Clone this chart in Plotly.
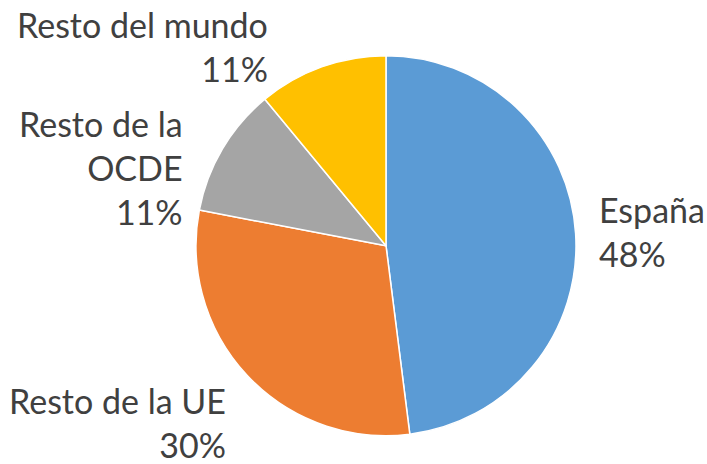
import plotly.graph_objects as go

labels = ["España", "Resto de la UE", "Resto de la OCDE", "Resto del mundo"]
values = [48, 30, 11, 11]
colors = ["#5B9BD5", "#ED7D31", "#A5A5A5", "#FFC000"]

# texto de cada etiqueta (con saltos de línea como en el original)
label_text = ["España", "Resto de la UE", "Resto de la<br>OCDE", "Resto del mundo"]
total = sum(values)
pcts = [f"{round(v / total * 100)}%" for v in values]

fig = go.Figure(
    go.Pie(
        labels=labels,
        values=values,
        sort=False,
        direction="clockwise",
        rotation=0,
        marker=dict(colors=colors, line=dict(color="white", width=1.5)),
        textinfo="none",
        hoverinfo="label+percent",
        domain=dict(x=[0.2772, 0.8147], y=[0.060, 0.881]),
        showlegend=False,
    )
)

# posiciones de las etiquetas (paper coords)
label_pos = [
    dict(x=0.844, y=0.502, xanchor="left", align="left"),
    dict(x=0.322, y=0.090, xanchor="right", align="right"),
    dict(x=0.262, y=0.638, xanchor="right", align="right"),
    dict(x=0.382, y=0.899, xanchor="right", align="right"),
]
for txt, p, pos in zip(label_text, pcts, label_pos):
    fig.add_annotation(
        text=f"{txt}<br>{p}",
        xref="paper", yref="paper",
        yanchor="middle",
        showarrow=False,
        font=dict(family="Lato", size=34, color="#404040"),
        **pos,
    )

fig.update_layout(
    width=707,
    height=464,
    margin=dict(l=0, r=0, t=0, b=0),
    paper_bgcolor="white",
    plot_bgcolor="white",
)

# quitar el margen del body para que la figura ocupe toda la ventana
fig.write_html(
    "out.html",
    config={"displayModeBar": False},
    post_script="document.body.style.margin='0';",
)
